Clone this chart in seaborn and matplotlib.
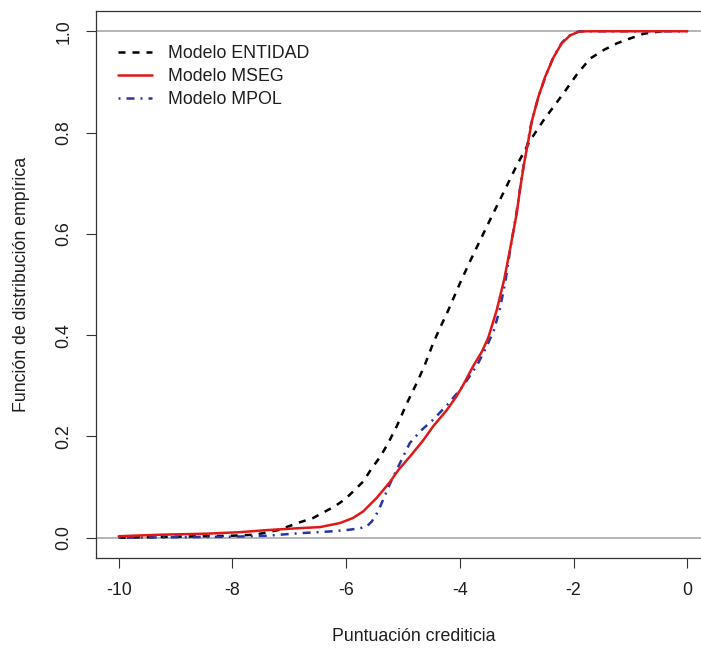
import matplotlib
matplotlib.use("Agg")
import matplotlib.pyplot as plt
import seaborn as sns
import pandas as pd

# Empirical distribution curves of the credit score for each model
x_entidad = [-10.0, -9.0, -8.0, -7.6, -7.2, -6.8, -6.58, -6.4, -6.2, -6.02, -5.88,
             -5.7, -5.55, -5.4, -5.26, -5.11, -4.93, -4.76, -4.62, -4.47, -4.35,
             -4.2, -4.0, -3.82, -3.64, -3.45, -3.23, -3.0, -2.76, -2.53, -2.18,
             -1.94, -1.71, -1.47, -1.24, -1.0, -0.77, -0.45]
f_entidad = [0.0, 0.002, 0.004, 0.006, 0.015, 0.031, 0.039, 0.05, 0.062, 0.076,
             0.091, 0.111, 0.137, 0.16, 0.187, 0.22, 0.266, 0.305, 0.34, 0.384,
             0.414, 0.45, 0.502, 0.546, 0.588, 0.632, 0.682, 0.735, 0.785, 0.824,
             0.877, 0.915, 0.946, 0.963, 0.976, 0.986, 0.995, 1.0]

x_mseg = [-10.0, -9.25, -8.46, -7.87, -7.4, -6.81, -6.46, -6.11, -5.88, -5.7,
          -5.46, -5.23, -5.08, -4.88, -4.64, -4.47, -4.23, -4.06, -3.94, -3.76,
          -3.61, -3.5, -3.35, -3.22, -3.12, -3.0, -2.94, -2.86, -2.73, -2.62,
          -2.5, -2.35, -2.21, -2.06, -1.91, -1.77, 0.0]
f_mseg = [0.003, 0.006, 0.008, 0.011, 0.015, 0.019, 0.021, 0.029, 0.039, 0.052,
          0.079, 0.11, 0.134, 0.16, 0.193, 0.22, 0.252, 0.279, 0.302, 0.34,
          0.368, 0.395, 0.45, 0.51, 0.568, 0.64, 0.69, 0.745, 0.824, 0.87,
          0.91, 0.949, 0.976, 0.992, 0.999, 1.0, 1.0]

x_mpol = [-10.0, -9.0, -8.0, -7.4, -6.81, -6.2, -5.93, -5.75, -5.64, -5.55,
          -5.46, -5.4, -5.3, -5.2, -5.05, -4.88, -4.68, -4.47, -4.2, -3.94,
          -3.7, -3.53, -3.4, -3.3, -3.2, -3.12, -3.0, -2.88, -2.75, -2.62,
          -2.48, -2.35, -2.2, -2.1, -1.9, 0.0]
f_mpol = [0.0, 0.001, 0.002, 0.004, 0.009, 0.013, 0.016, 0.019, 0.022, 0.032,
          0.048, 0.062, 0.088, 0.114, 0.148, 0.187, 0.212, 0.233, 0.265, 0.3,
          0.34, 0.377, 0.41, 0.45, 0.505, 0.565, 0.645, 0.735, 0.815, 0.87,
          0.915, 0.95, 0.978, 0.99, 1.0, 1.0]

labels = ["Modelo ENTIDAD", "Modelo MSEG", "Modelo MPOL"]
x_ticks = [-10, -8, -6, -4, -2, 0]
y_ticks = [0.0, 0.2, 0.4, 0.6, 0.8, 1.0]
y_tick_labels = ["0.0", "0.2", "0.4", "0.6", "0.8", "1.0"]

sns.set_style("white")
plt.rcParams["font.family"] = ["Liberation Sans", "DejaVu Sans"]
plt.rcParams["font.size"] = 12.8

text_color = "#1e1e1e"

fig = plt.figure(figsize=(7.01, 6.48), dpi=100)
ax = fig.add_axes([96 / 701, 90 / 648, 614 / 701, 547 / 648])

lw = 1.8
ax.axhline(0, color="#a8a8a8", lw=1.2, zorder=1)
ax.axhline(1, color="#a8a8a8", lw=1.2, zorder=1)

series = [
    (x_entidad, f_entidad, labels[0], "black", (0, (2.8, 2.8)), 3),
    (x_mseg, f_mseg, labels[1], "#e01818", "-", 5),
    (x_mpol, f_mpol, labels[2], "#2834a8", (0, (0.8, 2.4, 3.2, 2.4)), 4),
]
for xs, fs, lab, col, ls, z in series:
    df = pd.DataFrame({"x": xs, "F": fs})
    sns.lineplot(data=df, x="x", y="F", ax=ax, color=col, lw=lw,
                 linestyle=ls, label=lab, estimator=None, sort=False,
                 zorder=z)

ax.set_xlim(-10.4, 0.4)
ax.set_ylim(-0.04, 1.04)
ax.set_xticks(x_ticks)
ax.set_xticklabels([str(t) for t in x_ticks])
ax.set_yticks(y_ticks)
ax.set_yticklabels(y_tick_labels, rotation=90, va="center")

ax.tick_params(axis="both", direction="out", length=7, width=0.8,
               color="#333333", labelcolor=text_color, labelsize=12.8, pad=10)
ax.tick_params(axis="x", bottom=True)
ax.tick_params(axis="y", left=True)

for side in ["left", "bottom", "top", "right"]:
    ax.spines[side].set_color("#333333")
    ax.spines[side].set_linewidth(0.9)

ax.set_xlabel("Puntuación crediticia", color=text_color, fontsize=12.8)
ax.set_ylabel("Función de distribución empírica", color=text_color,
              fontsize=12.8)
ax.xaxis.set_label_coords(0.5 + 11 / 614, -0.128)
ax.yaxis.set_label_coords(-0.108, 0.5)

leg = ax.legend(loc="upper left", bbox_to_anchor=(0.036, 0.937),
                frameon=False, borderpad=0, borderaxespad=0,
                handlelength=1.9, handletextpad=0.9, labelspacing=0.32,
                fontsize=12.8)
for t in leg.get_texts():
    t.set_color(text_color)

fig.savefig("out.png", dpi=100)
